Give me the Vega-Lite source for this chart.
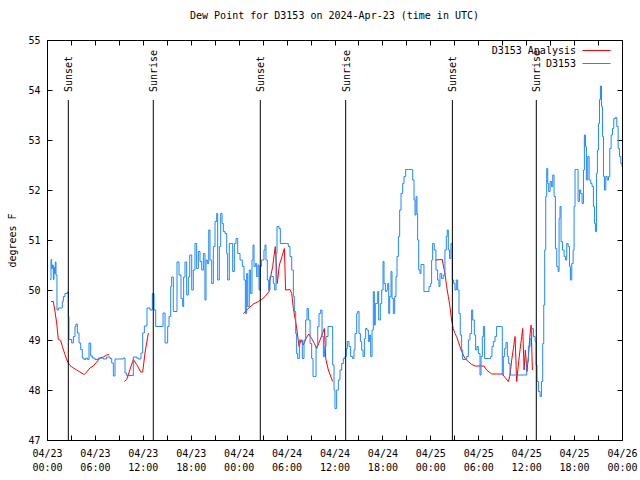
{
  "$schema": "https://vega.github.io/schema/vega-lite/v6.json",
  "width": 575,
  "height": 400,
  "autosize": "none",
  "padding": {"left": 47, "top": 40, "right": 18, "bottom": 40},
  "title": {"text": "Dew Point for D3153 on 2024-Apr-23 (time in UTC)", "font": "DejaVu Sans Mono", "fontSize": 10, "fontWeight": "normal", "color": "black", "offset": 14, "anchor": "middle"},
  "config": {
    "view": {"stroke": "black", "strokeWidth": 1},
    "font": "DejaVu Sans Mono",
    "axis": {"labelFont": "DejaVu Sans Mono", "titleFont": "DejaVu Sans Mono", "labelFontSize": 10, "titleFontSize": 10, "titleFontWeight": "normal", "labelColor": "black", "titleColor": "black", "tickColor": "black", "grid": false, "domain": false}
  },
  "datasets": {
    "obs": [
      {"h":0.38,"v":50.21},{"h":0.50,"v":50.61},{"h":0.58,"v":50.43},{"h":0.67,"v":50.50},{"h":0.79,"v":50.21},{"h":0.88,"v":50.45},{"h":0.96,"v":50.33},{"h":1.04,"v":50.56},{"h":1.13,"v":50.30},{"h":1.25,"v":49.60},{"h":1.42,"v":49.64},{"h":1.84,"v":49.64},{"h":1.92,"v":49.77},{"h":2.05,"v":49.87},{"h":2.25,"v":49.93},{"h":2.55,"v":49.96},{"h":2.67,"v":49.47},{"h":2.75,"v":49.01},{"h":3.09,"v":48.94},{"h":3.30,"v":49.07},{"h":3.51,"v":49.27},{"h":3.63,"v":49.32},{"h":3.80,"v":49.14},{"h":4.01,"v":48.94},{"h":4.22,"v":48.81},{"h":4.42,"v":48.64},{"h":4.63,"v":48.61},{"h":4.84,"v":48.64},{"h":5.05,"v":48.61},{"h":5.26,"v":48.94},{"h":5.47,"v":48.68},{"h":5.68,"v":48.64},{"h":6.01,"v":48.61},{"h":6.43,"v":48.64},{"h":7.05,"v":48.62},{"h":7.47,"v":48.66},{"h":7.89,"v":48.63},{"h":8.10,"v":48.54},{"h":8.31,"v":48.28},{"h":8.52,"v":48.62},{"h":8.93,"v":48.62},{"h":9.56,"v":48.64},{"h":9.77,"v":48.34},{"h":9.98,"v":48.29},{"h":10.52,"v":48.29},{"h":10.81,"v":48.66},{"h":11.23,"v":48.64},{"h":11.44,"v":48.62},{"h":11.77,"v":48.74},{"h":11.98,"v":49.14},{"h":12.19,"v":49.28},{"h":12.52,"v":49.64},{"h":12.90,"v":49.60},{"h":13.19,"v":49.93},{"h":13.40,"v":49.60},{"h":13.61,"v":49.27},{"h":14.28,"v":49.27},{"h":14.53,"v":49.54},{"h":14.78,"v":48.94},{"h":15.11,"v":49.27},{"h":15.28,"v":49.47},{"h":15.49,"v":50.07},{"h":15.61,"v":50.26},{"h":15.82,"v":49.57},{"h":16.03,"v":49.57},{"h":16.28,"v":50.56},{"h":16.53,"v":50.30},{"h":16.78,"v":49.83},{"h":16.99,"v":49.67},{"h":17.11,"v":50.26},{"h":17.28,"v":50.56},{"h":17.49,"v":49.90},{"h":17.70,"v":50.26},{"h":17.87,"v":50.70},
      {"h":18.12,"v":50.00},{"h":18.32,"v":50.40},{"h":18.53,"v":50.93},{"h":18.74,"v":50.43},{"h":18.95,"v":50.77},{"h":19.16,"v":50.57},{"h":19.37,"v":50.40},{"h":19.58,"v":50.73},{"h":19.78,"v":49.80},{"h":19.91,"v":50.60},{"h":20.08,"v":50.53},{"h":20.25,"v":51.20},{"h":20.41,"v":50.60},{"h":20.62,"v":50.13},{"h":20.83,"v":50.87},{"h":21.04,"v":51.37},{"h":21.25,"v":51.53},{"h":21.37,"v":50.20},{"h":21.58,"v":50.87},{"h":21.75,"v":51.53},{"h":21.92,"v":51.33},{"h":22.08,"v":51.17},{"h":22.29,"v":51.13},{"h":22.50,"v":50.73},{"h":22.62,"v":50.20},{"h":22.83,"v":50.93},{"h":23.04,"v":50.93},{"h":23.25,"v":50.37},{"h":23.46,"v":50.93},{"h":23.67,"v":51.03},{"h":23.88,"v":50.73},{"h":24.17,"v":50.60},{"h":24.46,"v":50.47},{"h":24.67,"v":50.20},{"h":24.84,"v":49.53},{"h":25.00,"v":50.33},{"h":25.13,"v":49.67},{"h":25.33,"v":50.40},{"h":25.50,"v":49.93},{"h":25.67,"v":50.60},{"h":25.80,"v":50.90},{"h":25.92,"v":50.47},{"h":26.09,"v":50.53},{"h":26.25,"v":50.27},{"h":26.42,"v":50.50},{"h":26.55,"v":50.00},{"h":26.67,"v":50.47},{"h":26.84,"v":50.60},{"h":27.00,"v":50.60},{"h":27.17,"v":50.80},{"h":27.30,"v":50.90},{"h":27.42,"v":50.60},{"h":27.59,"v":50.20},{"h":27.76,"v":50.00},{"h":27.92,"v":50.27},{"h":28.13,"v":50.27},{"h":28.34,"v":50.13},{"h":28.51,"v":50.00},{"h":28.68,"v":50.73},{"h":28.80,"v":51.27},{"h":29.05,"v":51.23},{"h":29.22,"v":50.93},{"h":30.01,"v":50.93},{"h":30.22,"v":50.87},{"h":30.43,"v":50.67},{"h":30.64,"v":50.40},{"h":30.85,"v":49.87},{"h":30.97,"v":49.57},{"h":31.14,"v":49.13},{"h":31.26,"v":48.73},{"h":31.39,"v":48.63},{"h":31.60,"v":49.00},{"h":31.81,"v":49.00},{"h":31.97,"v":48.63},{"h":32.18,"v":49.00},{"h":32.39,"v":49.40},{"h":32.56,"v":49.63},{"h":32.73,"v":49.40},{"h":32.94,"v":48.93},{"h":33.14,"v":48.63},{"h":33.31,"v":48.27},{"h":33.52,"v":48.27},{"h":33.69,"v":48.87},{"h":33.90,"v":49.27},{"h":34.06,"v":49.53},{"h":34.27,"v":49.60},{"h":34.44,"v":49.07},{"h":34.61,"v":48.67},{"h":34.77,"v":48.87},{"h":34.94,"v":49.07},{"h":35.19,"v":49.27},{"h":35.52,"v":49.27},{"h":35.77,"v":48.50},{"h":35.94,"v":48.00},
      {"h":36.06,"v":47.63},{"h":36.27,"v":48.00},{"h":36.48,"v":48.20},{"h":36.69,"v":48.40},{"h":36.90,"v":48.53},{"h":37.10,"v":48.63},{"h":37.31,"v":48.67},{"h":37.48,"v":48.83},{"h":37.61,"v":48.97},{"h":37.82,"v":48.87},{"h":38.02,"v":48.67},{"h":38.27,"v":48.63},{"h":38.44,"v":48.80},{"h":38.57,"v":49.13},{"h":38.78,"v":49.53},{"h":38.90,"v":49.57},{"h":39.07,"v":49.13},{"h":39.24,"v":48.97},{"h":39.40,"v":48.80},{"h":39.57,"v":48.67},{"h":39.74,"v":49.03},{"h":39.90,"v":49.23},{"h":40.07,"v":49.20},{"h":40.24,"v":48.97},{"h":40.40,"v":49.10},{"h":40.53,"v":48.67},{"h":40.70,"v":49.20},{"h":40.86,"v":49.97},{"h":40.99,"v":49.30},{"h":41.11,"v":49.73},{"h":41.28,"v":49.73},{"h":41.41,"v":49.97},{"h":41.53,"v":49.40},{"h":41.74,"v":49.73},{"h":41.91,"v":50.00},{"h":42.08,"v":50.57},{"h":42.20,"v":50.13},{"h":42.37,"v":49.97},{"h":42.54,"v":50.00},{"h":42.66,"v":50.13},{"h":42.79,"v":49.53},{"h":42.91,"v":49.87},{"h":43.08,"v":50.37},{"h":43.20,"v":49.83},{"h":43.37,"v":49.53},{"h":43.54,"v":49.87},{"h":43.70,"v":50.27},{"h":43.83,"v":50.67},{"h":44.00,"v":51.07},{"h":44.16,"v":51.60},{"h":44.33,"v":51.93},{"h":44.54,"v":52.13},{"h":44.70,"v":52.27},{"h":44.91,"v":52.41},{"h":45.25,"v":52.41},{"h":45.66,"v":52.41},{"h":45.79,"v":52.20},{"h":45.96,"v":51.80},{"h":46.08,"v":51.50},{"h":46.21,"v":51.87},{"h":46.33,"v":51.53},{"h":46.41,"v":51.00},{"h":46.54,"v":50.40},{"h":46.70,"v":50.33},{"h":46.83,"v":50.51},{"h":47.08,"v":50.51},{"h":47.20,"v":49.97},{"h":47.54,"v":49.97},{"h":47.83,"v":50.07},{"h":48.04,"v":50.13},{"h":48.16,"v":50.60},{"h":48.29,"v":50.93},{"h":48.49,"v":50.80},{"h":48.70,"v":50.40},{"h":48.91,"v":50.20},{"h":49.08,"v":50.07},{"h":49.21,"v":50.33},{"h":49.41,"v":50.23},{"h":49.62,"v":50.30},{"h":49.83,"v":50.80},{"h":50.00,"v":51.07},{"h":50.12,"v":51.20},{"h":50.25,"v":50.80},{"h":50.41,"v":50.63},{"h":50.58,"v":50.93},{"h":50.75,"v":50.20},{"h":50.92,"v":50.13},{"h":51.08,"v":50.00},{"h":51.25,"v":50.20},{"h":51.42,"v":50.00},{"h":51.59,"v":49.53},{"h":51.75,"v":49.10},{"h":51.92,"v":48.80},{"h":52.05,"v":48.61},{"h":52.34,"v":48.61},{"h":52.55,"v":48.67},{"h":52.76,"v":49.00},{"h":52.96,"v":49.13},{"h":53.17,"v":49.60},{"h":53.30,"v":49.40},{"h":53.51,"v":49.10},{"h":53.67,"v":48.80},{"h":53.84,"v":48.87},{"h":54.01,"v":48.73},
      {"h":54.22,"v":48.30},{"h":54.35,"v":48.67},{"h":54.51,"v":49.07},{"h":54.64,"v":49.27},{"h":54.80,"v":48.63},{"h":55.26,"v":48.63},{"h":55.55,"v":48.67},{"h":55.72,"v":48.87},{"h":55.89,"v":48.97},{"h":56.10,"v":49.07},{"h":56.30,"v":49.27},{"h":56.89,"v":49.27},{"h":57.01,"v":48.30},{"h":57.14,"v":48.67},{"h":57.31,"v":48.83},{"h":57.47,"v":48.95},{"h":57.64,"v":48.67},{"h":57.81,"v":48.53},{"h":57.98,"v":48.30},{"h":59.86,"v":48.30},{"h":60.07,"v":48.57},{"h":60.28,"v":48.87},{"h":60.49,"v":49.03},{"h":60.70,"v":49.23},{"h":60.91,"v":49.07},{"h":61.12,"v":48.97},{"h":61.24,"v":48.50},{"h":61.36,"v":48.17},{"h":61.53,"v":47.97},{"h":61.74,"v":47.87},{"h":61.91,"v":48.17},{"h":62.07,"v":48.93},{"h":62.20,"v":49.70},{"h":62.32,"v":50.80},{"h":62.45,"v":51.87},{"h":62.57,"v":52.43},{"h":62.70,"v":52.13},{"h":62.82,"v":51.97},{"h":62.99,"v":52.17},{"h":63.16,"v":52.07},{"h":63.33,"v":52.30},{"h":63.49,"v":51.87},{"h":63.66,"v":50.83},{"h":63.83,"v":50.47},{"h":64.00,"v":50.37},{"h":64.12,"v":51.43},{"h":64.24,"v":51.67},{"h":64.37,"v":50.97},{"h":64.54,"v":50.80},{"h":64.75,"v":50.67},{"h":64.92,"v":50.60},{"h":65.08,"v":50.93},{"h":65.25,"v":50.87},{"h":65.42,"v":50.47},{"h":65.54,"v":50.20},{"h":65.71,"v":50.53},{"h":65.88,"v":50.80},{"h":66.00,"v":51.67},{"h":66.12,"v":52.41},{"h":66.33,"v":52.41},{"h":66.50,"v":51.77},{"h":66.67,"v":52.00},{"h":66.83,"v":51.93},{"h":67.00,"v":51.73},{"h":67.17,"v":52.40},{"h":67.29,"v":53.10},{"h":67.42,"v":52.87},{"h":67.54,"v":52.20},{"h":67.71,"v":52.67},{"h":67.88,"v":52.20},{"h":68.09,"v":52.13},{"h":68.25,"v":52.07},{"h":68.42,"v":51.67},{"h":68.55,"v":51.33},{"h":68.67,"v":51.17},{"h":68.80,"v":52.33},{"h":68.92,"v":52.80},{"h":69.05,"v":53.33},{"h":69.18,"v":53.81},{"h":69.30,"v":54.08},{"h":69.43,"v":53.67},{"h":69.55,"v":53.07},{"h":69.68,"v":52.27},{"h":69.80,"v":52.00},{"h":69.97,"v":52.27},{"h":70.14,"v":52.20},{"h":70.31,"v":52.27},{"h":70.47,"v":52.83},{"h":70.64,"v":53.10},{"h":70.81,"v":53.23},{"h":70.97,"v":53.43},{"h":71.18,"v":53.45},{"h":71.35,"v":53.27},{"h":71.52,"v":52.83},{"h":71.68,"v":52.67},{"h":71.85,"v":52.53},{"h":72.00,"v":52.47}
    ],
    "analysis": [
      {"seg":1,"h":0.50,"v":49.77},{"seg":1,"h":0.79,"v":49.77},{"seg":1,"h":1.00,"v":49.57},{"seg":1,"h":1.21,"v":49.34},{"seg":1,"h":1.42,"v":49.01},{"seg":1,"h":1.71,"v":48.99},{"seg":1,"h":1.92,"v":48.87},{"seg":1,"h":2.25,"v":48.71},{"seg":1,"h":2.59,"v":48.56},{"seg":1,"h":2.88,"v":48.49},{"seg":1,"h":3.30,"v":48.44},{"seg":1,"h":3.72,"v":48.40},{"seg":1,"h":4.13,"v":48.36},{"seg":1,"h":4.67,"v":48.31},{"seg":1,"h":4.97,"v":48.36},{"seg":1,"h":5.38,"v":48.44},{"seg":1,"h":5.80,"v":48.48},{"seg":1,"h":6.22,"v":48.56},{"seg":1,"h":6.64,"v":48.64},{"seg":1,"h":7.05,"v":48.66},{"seg":1,"h":7.47,"v":48.70},{"seg":1,"h":7.80,"v":48.71},
      {"seg":2,"h":9.68,"v":48.17},{"seg":2,"h":9.98,"v":48.21},{"seg":2,"h":10.39,"v":48.41},{"seg":2,"h":10.81,"v":48.61},{"seg":2,"h":11.23,"v":48.51},{"seg":2,"h":11.73,"v":48.36},{"seg":2,"h":11.98,"v":48.36},{"seg":2,"h":12.27,"v":48.74},{"seg":2,"h":12.48,"v":48.94},{"seg":2,"h":12.69,"v":49.14},
      {"seg":3,"h":24.58,"v":49.53},{"seg":3,"h":25.21,"v":49.63},{"seg":3,"h":25.84,"v":49.72},{"seg":3,"h":26.47,"v":49.77},{"seg":3,"h":26.88,"v":49.81},{"seg":3,"h":27.30,"v":49.87},{"seg":3,"h":27.80,"v":49.97},{"seg":3,"h":27.92,"v":50.20},{"seg":3,"h":28.26,"v":50.47},{"seg":3,"h":28.42,"v":50.67},{"seg":3,"h":28.59,"v":50.87},{"seg":3,"h":28.84,"v":50.13},{"seg":3,"h":29.09,"v":50.50},{"seg":3,"h":29.43,"v":50.67},{"seg":3,"h":29.72,"v":50.83},{"seg":3,"h":29.88,"v":50.00},{"seg":3,"h":30.43,"v":50.01},{"seg":3,"h":30.64,"v":49.93},{"seg":3,"h":30.85,"v":49.63},{"seg":3,"h":31.18,"v":49.33},{"seg":3,"h":31.35,"v":49.13},{"seg":3,"h":31.56,"v":48.87},{"seg":3,"h":31.81,"v":49.00},{"seg":3,"h":32.10,"v":48.90},{"seg":3,"h":32.43,"v":49.03},{"seg":3,"h":32.77,"v":49.12},{"seg":3,"h":33.14,"v":49.03},{"seg":3,"h":33.48,"v":48.93},{"seg":3,"h":33.77,"v":48.83},{"seg":3,"h":34.19,"v":49.00},{"seg":3,"h":34.73,"v":49.23},{"seg":3,"h":34.90,"v":48.63},{"seg":3,"h":35.23,"v":48.40},{"seg":3,"h":35.77,"v":48.17},
      {"seg":4,"h":48.58,"v":50.60},{"seg":4,"h":49.50,"v":50.61},{"seg":4,"h":49.62,"v":50.50},{"seg":4,"h":49.83,"v":50.33},{"seg":4,"h":50.04,"v":50.07},{"seg":4,"h":50.25,"v":49.87},{"seg":4,"h":50.46,"v":49.67},{"seg":4,"h":50.66,"v":49.40},{"seg":4,"h":50.87,"v":49.23},{"seg":4,"h":51.08,"v":49.13},{"seg":4,"h":51.29,"v":49.07},{"seg":4,"h":51.50,"v":48.97},{"seg":4,"h":51.71,"v":48.87},{"seg":4,"h":51.92,"v":48.77},{"seg":4,"h":52.34,"v":48.63},{"seg":4,"h":52.76,"v":48.57},{"seg":4,"h":53.17,"v":48.51},{"seg":4,"h":53.59,"v":48.48},{"seg":4,"h":54.42,"v":48.48},{"seg":4,"h":54.72,"v":48.48},{"seg":4,"h":55.05,"v":48.40},{"seg":4,"h":55.68,"v":48.32},{"seg":4,"h":56.30,"v":48.32},{"seg":4,"h":57.01,"v":48.32},{"seg":4,"h":57.35,"v":48.25},{"seg":4,"h":57.77,"v":48.17},{"seg":4,"h":57.98,"v":48.30},{"seg":4,"h":58.19,"v":48.60},{"seg":4,"h":58.40,"v":48.83},{"seg":4,"h":58.61,"v":49.07},{"seg":4,"h":58.81,"v":48.17},{"seg":4,"h":59.02,"v":48.50},{"seg":4,"h":59.23,"v":48.80},{"seg":4,"h":59.44,"v":49.07},{"seg":4,"h":59.57,"v":49.23},{"seg":4,"h":59.74,"v":48.40},{"seg":4,"h":59.90,"v":48.80},{"seg":4,"h":60.11,"v":48.37},{"seg":4,"h":60.28,"v":48.67},{"seg":4,"h":60.49,"v":49.13},{"seg":4,"h":60.62,"v":49.30},{"seg":4,"h":60.78,"v":48.40}
    ],
    "sun": [
      {"h":2.67,"label":"Sunset"},{"h":13.31,"label":"Sunrise"},{"h":26.71,"label":"Sunset"},{"h":37.40,"label":"Sunrise"},{"h":50.76,"label":"Sunset"},{"h":61.27,"label":"Sunrise"}
    ]
  },
  "layer": [
    {
      "data": {"name": "analysis"},
      "mark": {"type": "line", "strokeWidth": 1, "clip": true},
      "encoding": {
        "x": {"field": "h", "type": "quantitative", "scale": {"domain": [0, 72], "nice": false, "zero": false},
          "axis": {"orient": "bottom", "title": null, "values": [0,3,6,9,12,15,18,21,24,27,30,33,36,39,42,45,48,51,54,57,60,63,66,69,72], "tickSize": -5, "labelPadding": 13, "labelAngle": 0, "labelFlush": false, "labelOverlap": false, "labelLineHeight": 14, "labelBaseline": "top",
            "labelExpr": "datum.value % 6 == 0 ? ['04/' + (23 + floor(datum.value / 24)), (datum.value % 24 < 10 ? '0' : '') + (datum.value % 24) + ':00'] : ''"}},
        "y": {"field": "v", "type": "quantitative", "scale": {"domain": [47, 55], "nice": false, "zero": false},
          "axis": {"orient": "left", "title": "degrees F", "values": [47,48,49,50,51,52,53,54,55], "tickSize": -5, "labelPadding": 12, "titlePadding": 10}},
        "detail": {"field": "seg"},
        "color": {"datum": "D3153 Analysis", "type": "nominal",
          "scale": {"domain": ["D3153 Analysis", "D3153"], "range": ["#ff0000", "#1e88ff"]},
          "legend": {"orient": "none", "legendX": 542, "legendY": 3, "title": null, "symbolType": "M-2,0H2", "symbolSize": 196, "symbolStrokeWidth": 1, "labelAlign": "right", "labelOffset": -28, "padding": 0, "rowPadding": -1, "labelFontSize": 10, "labelFont": "DejaVu Sans Mono", "labelColor": "black"}}
      }
    },
    {
      "data": {"name": "obs"},
      "mark": {"type": "line", "strokeWidth": 1, "interpolate": "step-after", "clip": true},
      "encoding": {
        "x": {"field": "h", "type": "quantitative", "axis": {"orient": "top", "labels": false, "title": null, "values": [0,3,6,9,12,15,18,21,24,27,30,33,36,39,42,45,48,51,54,57,60,63,66,69,72], "tickSize": -5}},
        "y": {"field": "v", "type": "quantitative", "axis": {"orient": "right", "labels": false, "title": null, "values": [47,48,49,50,51,52,53,54,55], "tickSize": -5}},
        "color": {"datum": "D3153", "type": "nominal"}
      }
    },
    {
      "data": {"name": "sun"},
      "mark": {"type": "rule", "color": "black", "strokeWidth": 1},
      "encoding": {
        "x": {"field": "h", "type": "quantitative", "axis": null},
        "y": {"datum": 53.8, "type": "quantitative", "axis": null},
        "y2": {"datum": 47}
      }
    },
    {
      "data": {"name": "sun"},
      "mark": {"type": "text", "angle": 270, "align": "left", "baseline": "middle", "fontSize": 10, "font": "DejaVu Sans Mono", "color": "black", "dy": 1},
      "encoding": {
        "x": {"field": "h", "type": "quantitative", "axis": null},
        "y": {"datum": 53.96, "type": "quantitative", "axis": null},
        "text": {"field": "label"}
      }
    }
  ],
  "resolve": {"axis": {"x": "independent", "y": "independent"}}
}
